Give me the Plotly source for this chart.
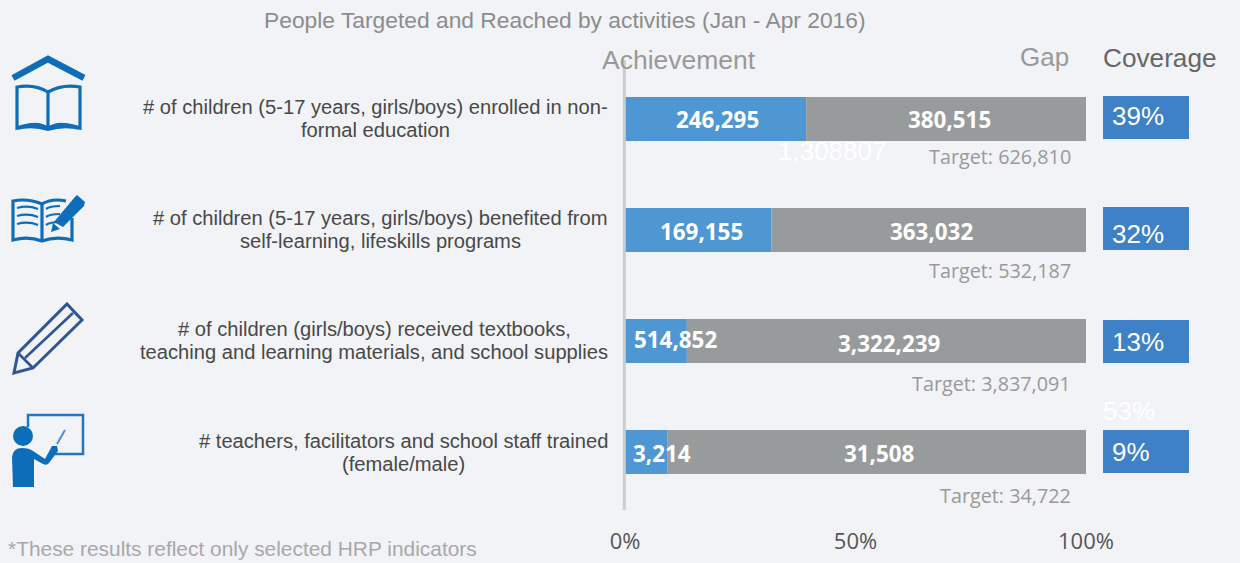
import re
import plotly.graph_objects as go

W, H = 1240, 563
BG = "#F1F3F6"
ARIAL = "Liberation Sans"
SEGOE = "Open Sans"

# ---------- data ----------
activities = [
    ["# of children (5-17 years, girls/boys) enrolled in non-", "formal education"],
    ["# of children (5-17 years, girls/boys) benefited from", "self-learning, lifeskills programs"],
    ["# of children (girls/boys) received textbooks,", "teaching and learning materials, and school supplies"],
    ["# teachers, facilitators and school staff trained", "(female/male)"],
]
reached = [246295, 169155, 514852, 3214]
gap = [380515, 363032, 3322239, 31508]
target = [626810, 532187, 3837091, 34722]
coverage = [39, 32, 13, 9]
x_ticks = [0, 50, 100]
x_tick_labels = ["0%", "50%", "100%"]
title = "People Targeted and Reached by activities (Jan - Apr 2016)"
footnote = "*These results reflect only selected HRP indicators"

# ---------- layout helpers (pixels of the reference -> paper space) ----------
X0, X100 = 625, 1086
PLOT_BOTTOM = 526
ROW0, ROW_STEP = 119, 111
px_per_pct = (X100 - X0) / 100


def px(x):
    return x / W


def py(y):
    return 1 - y / H


def svg(d):
    """Convert a path written in reference pixels to paper coordinates."""
    is_x = True

    def repl(m):
        nonlocal is_x
        v = float(m.group(0))
        r = f"{px(v):.5f}" if is_x else f"{py(v):.5f}"
        is_x = not is_x
        return r

    return re.sub(r"-?\d+\.?\d*", repl, d)


rows = list(range(len(activities)))
pct_reached = [r / t * 100 for r, t in zip(reached, target)]
pct_gap = [g / t * 100 for g, t in zip(gap, target)]

fig = go.Figure()
BAR_W = 44 / ROW_STEP
fig.add_bar(y=rows, x=pct_reached, orientation="h", width=BAR_W,
            marker=dict(color="#4F97D3", line=dict(width=0)), hoverinfo="skip")
fig.add_bar(y=rows, x=pct_gap, base=pct_reached, orientation="h", width=BAR_W,
            marker=dict(color="#989B9C", line=dict(width=0)), hoverinfo="skip")

# coverage boxes: fixed-size tiles placed to the right of the scale
COV_LEFT = (1103 - X0) / px_per_pct
COV_WIDTH = (1189 - 1103) / px_per_pct
COV_H = 43 / ROW_STEP
cov_offsets = [-23 / ROW_STEP, -23 / ROW_STEP, -21 / ROW_STEP, -22 / ROW_STEP]
fig.add_bar(y=rows, x=[COV_WIDTH] * 4, base=[COV_LEFT] * 4, orientation="h",
            width=COV_H, offset=cov_offsets,
            marker=dict(color="#3F81C6", line=dict(width=0)), hoverinfo="skip")

ann = []


def text(t, x, y, size, color, font=ARIAL, anchor="center", bold=False):
    if bold:
        t = f"<b>{t}</b>"
    ann.append(dict(text=t, x=px(x), y=py(y), xref="paper", yref="paper",
                    xanchor=anchor, yanchor="middle", showarrow=False,
                    font=dict(family=font, size=size, color=color)))


text(title, 565, 20, 22.8, "#8C8C8C")
text("Achievement", 679, 60, 26.5, "#999999")
text("Gap", 1044, 57, 26, "#999999")
text("Coverage", 1160, 58, 26.2, "#666666")
text(footnote, 6, 548, 20.9, "#A8A8A8", anchor="left")

label_cx = [375, 380.5, 374, 403]
label_y = [(107, 130), (218, 241), (329, 352), (441, 464)]
for lines, cx, ys in zip(activities, label_cx, label_y):
    for line, y in zip(lines, ys):
        text(line, cx, y, 20.15, "#484848")

reached_x = [718, 701, 675, 662]
gap_x = [949, 931, 889, 879]
reached_y = [119, 231, 339, 453]
gap_y = [119, 231, 343, 453]
for r, g, xa, xb, ya, yb in zip(reached, gap, reached_x, gap_x, reached_y, gap_y):
    text(f"{r:,}", xa, ya, 22.4, "#FFFFFF", font=SEGOE, bold=True)
    text(f"{g:,}", xb, yb, 22.4, "#FFFFFF", font=SEGOE, bold=True)

target_y = [156, 271, 383, 495]
for t, y in zip(target, target_y):
    text(f"Target: {t:,}", 1073, y, 19.8, "#999999", font=SEGOE, anchor="right")

cov_y = [116, 234, 342, 452]
for c, y in zip(coverage, cov_y):
    text(f"{c}%", 1110, y, 26, "#FFFFFF", anchor="left")

text("1,308807", 832, 151, 26, "#FFFFFF")
text("53%", 1129, 411, 26, "#FFFFFF")

# ---------- decorative icons ----------
BLUE = "#0E6DB8"
NAVY = "#2F5597"
shapes = [
    dict(type="line", xref="paper", yref="paper", x0=px(624.3), x1=px(624.3),
         y0=py(60), y1=py(510), line=dict(color="#CBCDCF", width=3), layer="above"),
]


def stroke(d, color=BLUE, w=2.5):
    shapes.append(dict(type="path", xref="paper", yref="paper", path=svg(d),
                       line=dict(color=color, width=w), layer="above"))


def solid(d, color=BLUE):
    shapes.append(dict(type="path", xref="paper", yref="paper", path=svg(d),
                       line=dict(width=0), fillcolor=color, layer="above"))


# icon 1: book under a roof
stroke("M 13 78 L 48 59 L 84 78", w=6.5)
stroke("M 48 92 Q 35 84 17 87 L 17 128 Q 35 121 48 128 Q 62 121 80 128 L 80 87 Q 62 84 48 92 L 48 128", w=3.2)
solid("M 17 130 Q 33 117 48 127 Q 63 117 80 130 Q 64 126 48 131 Q 32 126 17 130 Z")
# icon 2: open book and pencil
stroke("M 42 204 Q 28 198 13 201 L 13 240 Q 28 236 42 241 Q 56 236 72 240 L 72 218", w=3.2)
stroke("M 42 204 Q 52 198 66 201 M 42 204 L 42 241", w=3.2)
for yy in (208, 216, 224):
    stroke(f"M 17 {yy} Q 28 {yy - 3} 38 {yy + 1}", w=2.2)
    stroke(f"M 46 {yy + 1} Q 50 {yy - 2} 60 {yy - 2}", w=2.2)
solid("M 77 195 L 85 202 L 84 206 L 63 227 L 54 222 L 74 198 Z")
solid("M 53 223 L 60 229 L 51 232 Z")
# icon 3: pencil
stroke("M 67 304 L 82 320 L 33 368 L 14 373 L 18 353 Z", color=NAVY, w=3)
stroke("M 25 358 L 73 313", color=NAVY, w=2.6)
stroke("M 18 353 L 33 368", color=NAVY, w=2.6)
# icon 4: teacher at a board
stroke("M 28 427 L 28 415 L 83 415 L 83 454 L 55 454", color="#1F78C1", w=2.5)
shapes.append(dict(type="circle", xref="paper", yref="paper",
                   x0=px(13), x1=px(33), y0=py(426), y1=py(446),
                   fillcolor=BLUE, line=dict(width=0), layer="above"))
solid("M 12 457 Q 13 448 22 448 Q 29 448 33 451 L 45 459 L 52 446 L 57 446 L 58 451 L 49 463 Q 47 466 43 464 L 34 459 L 34 487 L 13 487 Z")
stroke("M 57 444 L 65 430", color="#4A90D0", w=2)

fig.update_layout(
    width=W, height=H, autosize=False,
    margin=dict(l=0, r=0, t=0, b=0, pad=0, autoexpand=False),
    paper_bgcolor=BG, plot_bgcolor=BG,
    barmode="overlay", showlegend=False,
    annotations=ann, shapes=shapes,
    xaxis=dict(domain=[X0 / W, 1], range=[0, (W - X0) / px_per_pct],
               tickmode="array", tickvals=x_ticks, ticktext=x_tick_labels,
               tickfont=dict(family=SEGOE, size=22, color="#555555"),
               showgrid=False, zeroline=False, showline=False, ticks="",
               anchor="y", automargin=False),
    yaxis=dict(domain=[(H - PLOT_BOTTOM) / H, 1],
               range=[(PLOT_BOTTOM - ROW0) / ROW_STEP, -ROW0 / ROW_STEP],
               showgrid=False, zeroline=False, showline=False, showticklabels=False,
               ticks="", automargin=False),
)
fig.write_html("out.html", config={"displayModeBar": False},
               post_script="document.body.style.margin='0';document.body.style.overflow='hidden';")
